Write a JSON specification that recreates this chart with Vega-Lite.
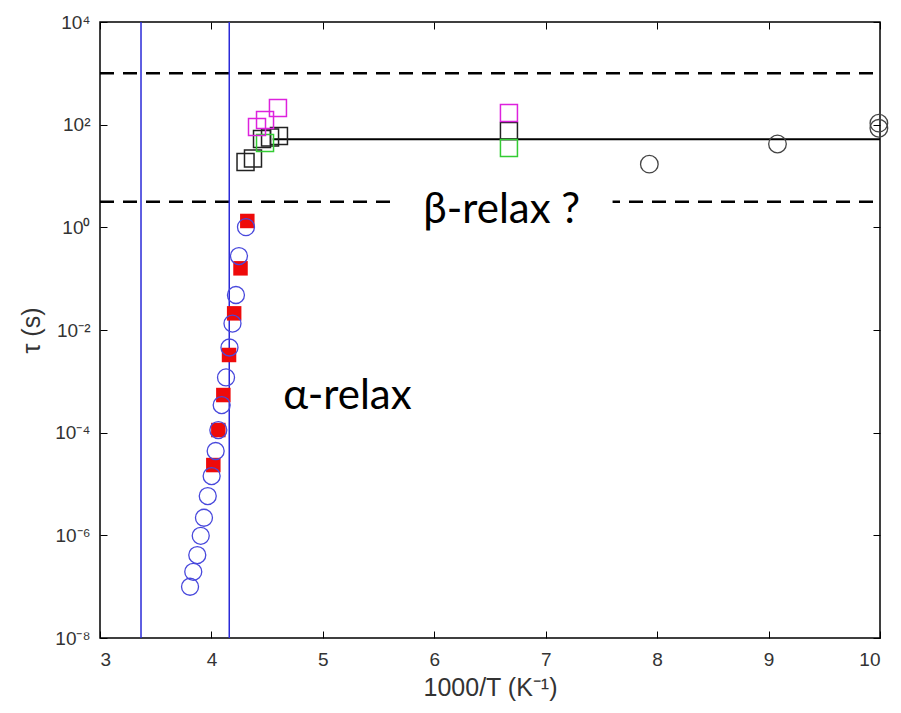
{
  "$schema": "https://vega.github.io/schema/vega-lite/v6.json",
  "width": 780,
  "height": 616,
  "autosize": {"type": "none"},
  "padding": {"left": 100, "top": 22, "right": 21, "bottom": 75},
  "background": "white",
  "config": {
    "view": {"stroke": "black", "strokeWidth": 1.5},
    "axis": {"labelFont": "Liberation Sans", "titleFont": "Liberation Sans", "labelColor": "#333", "titleColor": "#333", "titleFontWeight": "normal", "domainColor": "black", "tickColor": "black", "grid": false}
  },
  "datasets": {
    "alphaCircles": [
      {"x": 4.310, "tau": 1.01}, {"x": 4.247, "tau": 0.276}, {"x": 4.220, "tau": 0.0481}, {"x": 4.189, "tau": 0.01337},
      {"x": 4.162, "tau": 0.00456}, {"x": 4.131, "tau": 0.00119}, {"x": 4.092, "tau": 0.000345}, {"x": 4.062, "tau": 0.0001125},
      {"x": 4.038, "tau": 0.0000439}, {"x": 4.002, "tau": 0.0000143}, {"x": 3.967, "tau": 0.00000583}, {"x": 3.933, "tau": 0.0000022},
      {"x": 3.904, "tau": 0.00000098}, {"x": 3.873, "tau": 0.000000413}, {"x": 3.837, "tau": 0.000000195}, {"x": 3.808, "tau": 0.0000000997}
    ],
    "alphaRed": [
      {"x": 4.322, "tau": 1.33}, {"x": 4.261, "tau": 0.159}, {"x": 4.204, "tau": 0.0211}, {"x": 4.158, "tau": 0.00326},
      {"x": 4.107, "tau": 0.000541}, {"x": 4.062, "tau": 0.0001125}, {"x": 4.017, "tau": 0.0000234}
    ],
    "betaSquares": [
      {"x": 4.306, "tau": 18.8, "set": "black"}, {"x": 4.373, "tau": 21.9, "set": "black"}, {"x": 4.454, "tau": 52.6, "set": "black"},
      {"x": 4.526, "tau": 56.2, "set": "black"}, {"x": 4.606, "tau": 60.1, "set": "black"}, {"x": 6.67, "tau": 75, "set": "black"},
      {"x": 4.481, "tau": 44, "set": "green"}, {"x": 6.67, "tau": 35, "set": "green"},
      {"x": 4.409, "tau": 90, "set": "magenta"}, {"x": 4.481, "tau": 123, "set": "magenta"}, {"x": 4.597, "tau": 211, "set": "magenta"}, {"x": 6.67, "tau": 169, "set": "magenta"}
    ],
    "betaCircles": [
      {"x": 7.93, "tau": 17}, {"x": 9.08, "tau": 42}, {"x": 9.99, "tau": 107}, {"x": 9.99, "tau": 85}
    ],
    "vlines": [{"x": 3.368}, {"x": 4.16}],
    "hlines": [{"tau": 1000, "x1": 3, "x2": 9.95}, {"tau": 3.16, "x1": 3, "x2": 9.95}],
    "plateau": [{"tau": 52, "x1": 4.55, "x2": 10}],
    "box": [{"x1": 5.67, "x2": 7.6, "t1": 1.9, "t2": 5.6}],
    "labels": [{"x": 5.22, "tau": 0.00029, "text": "α-relax"}, {"x": 6.605, "tau": 1.23, "text": "β-relax ?"}]
  },
  "layer": [
    {
      "data": {"name": "hlines"},
      "mark": {"type": "rule", "color": "black", "strokeWidth": 2.5, "strokeDash": [14, 9]},
      "encoding": {
        "x": {"field": "x1", "type": "quantitative", "scale": {"domain": [3, 10], "nice": false, "zero": false}, "axis": null},
        "x2": {"field": "x2"},
        "y": {"field": "tau", "type": "quantitative", "scale": {"type": "log", "domain": [1e-8, 10000], "nice": false}, "axis": null}
      }
    },
    {
      "data": {"name": "box"},
      "mark": {"type": "rect", "color": "white"},
      "encoding": {
        "x": {"field": "x1", "type": "quantitative", "axis": null},
        "x2": {"field": "x2"},
        "y": {"field": "t1", "type": "quantitative", "axis": null},
        "y2": {"field": "t2"}
      }
    },
    {
      "data": {"name": "vlines"},
      "mark": {"type": "rule", "color": "#2a2ad8", "strokeWidth": 1.5},
      "encoding": {
        "x": {"field": "x", "type": "quantitative", "axis": null}
      }
    },
    {
      "data": {"name": "plateau"},
      "mark": {"type": "rule", "color": "black", "strokeWidth": 2},
      "encoding": {
        "x": {"field": "x1", "type": "quantitative", "axis": null},
        "x2": {"field": "x2"},
        "y": {"field": "tau", "type": "quantitative", "axis": null}
      }
    },
    {
      "data": {"name": "alphaRed"},
      "mark": {"type": "point", "shape": "square", "filled": true, "color": "#ee0a0a", "opacity": 1, "size": 210},
      "encoding": {
        "x": {"field": "x", "type": "quantitative", "axis": null},
        "y": {"field": "tau", "type": "quantitative", "axis": null}
      }
    },
    {
      "data": {"name": "alphaCircles"},
      "mark": {"type": "point", "shape": "circle", "filled": false, "color": "#4848dc", "opacity": 1, "size": 289, "strokeWidth": 1.3},
      "encoding": {
        "x": {"field": "x", "type": "quantitative", "axis": {"orient": "bottom", "values": [3, 4, 5, 6, 7, 8, 9, 10], "tickSize": -7, "labelPadding": 19, "labelFontSize": 19, "title": "1000/T (K⁻¹)", "titleFontSize": 25, "titlePadding": 6, "domain": false}},
        "y": {"field": "tau", "type": "quantitative", "axis": {"orient": "left", "values": [1e-8, 1e-6, 1e-4, 0.01, 1, 100, 10000], "tickSize": -7, "labelPadding": 17, "labelFontSize": 19, "labelExpr": "datum.value < 1e-7 ? '10⁻⁸' : datum.value < 1e-5 ? '10⁻⁶' : datum.value < 1e-3 ? '10⁻⁴' : datum.value < 0.1 ? '10⁻²' : datum.value < 10 ? '10⁰' : datum.value < 1000 ? '10²' : '10⁴'", "title": "τ (s)", "titleFontSize": 25, "titlePadding": 10, "domain": false}}
      }
    },
    {
      "data": {"name": "betaSquares"},
      "mark": {"type": "point", "shape": "square", "filled": false, "opacity": 1, "size": 289, "strokeWidth": 1.5},
      "encoding": {
        "x": {"field": "x", "type": "quantitative", "axis": null},
        "y": {"field": "tau", "type": "quantitative", "axis": null},
        "color": {"field": "set", "type": "nominal", "scale": {"domain": ["black", "green", "magenta"], "range": ["#222222", "#33cc33", "#dd22dd"]}, "legend": null}
      }
    },
    {
      "data": {"name": "betaCircles"},
      "mark": {"type": "point", "shape": "circle", "filled": false, "color": "#444444", "opacity": 1, "size": 310, "strokeWidth": 1.3},
      "encoding": {
        "x": {"field": "x", "type": "quantitative", "axis": {"orient": "top", "values": [3, 4, 5, 6, 7, 8, 9, 10], "tickSize": -7, "labels": false, "title": null, "domain": false}},
        "y": {"field": "tau", "type": "quantitative", "axis": {"orient": "right", "values": [1e-8, 1e-6, 1e-4, 0.01, 1, 100, 10000], "tickSize": -7, "labels": false, "title": null, "domain": false}}
      }
    },
    {
      "data": {"name": "labels"},
      "mark": {"type": "text", "font": "Lato", "fontSize": 42, "color": "black", "align": "center", "baseline": "alphabetic"},
      "encoding": {
        "x": {"field": "x", "type": "quantitative", "axis": null},
        "y": {"field": "tau", "type": "quantitative", "axis": null},
        "text": {"field": "text"}
      }
    }
  ],
  "resolve": {"axis": {"x": "independent", "y": "independent"}}
}
